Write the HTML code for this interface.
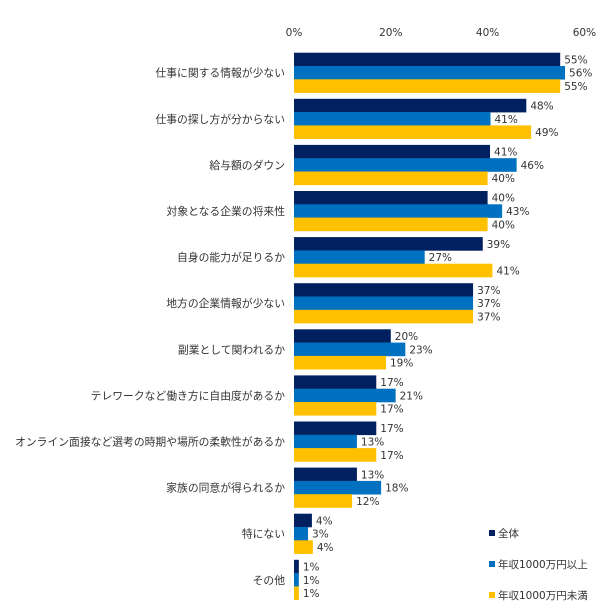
<!DOCTYPE html>
<html><head><meta charset="utf-8"><style>
body{margin:0;background:#fff;}
svg{display:block;font-family:"DejaVu Sans","Noto Sans CJK JP",sans-serif;font-size:10.5px;fill:#333;}
</style></head><body>
<svg id="chart" width="603" height="611" xmlns="http://www.w3.org/2000/svg"></svg>
<script>
const categories=["仕事に関する情報が少ない","仕事の探し方が分からない","給与額のダウン","対象となる企業の将来性","自身の能力が足りるか","地方の企業情報が少ない","副業として関われるか","テレワークなど働き方に自由度があるか","オンライン面接など選考の時期や場所の柔軟性があるか","家族の同意が得られるか","特にない","その他"];
const seriesNames=["全体","年収1000万円以上","年収1000万円未満"];
const allValues=[55,48,40.5,40,39,37,20,17,17,13,3.7,1];
const highValues=[56,40.6,46,43,27,37,23,21,13,18,2.9,1];
const lowValues=[55,49,40,40,41,37,19,17,17,12,3.9,1];
const ticks=[0,20,40,60];
const colors=["#002060","#0070C0","#FFC000"];
const svg=document.getElementById('chart');
const NS="http://www.w3.org/2000/svg";
const x0=294,scale=4.84,top0=52.7,pitch=46.1,bh=13.3;
const xs=v=>x0+v*scale;
function mk(t,a,txt){const e=document.createElementNS(NS,t);for(const k in a)e.setAttribute(k,a[k]);if(txt!==undefined)e.textContent=txt;svg.appendChild(e);return e;}
ticks.forEach(t=>{const e=mk('text',{x:xs(t),y:36,'text-anchor':'middle'},t+'%');

});
const series=[allValues,highValues,lowValues];
categories.forEach((c,i)=>{
 const gy=top0+i*pitch;
 const l=mk('text',{x:285,y:gy+bh*1.5+4,'text-anchor':'end','font-size':'10.8px'},c);
 
 
 series.forEach((s,j)=>{
  const y=gy+j*bh;
  const r=mk('rect',{x:x0,y:y,width:s[i]*scale,height:bh+0.3,fill:colors[j]});
  
  
  const t=mk('text',{x:xs(s[i])+4,y:y+bh/2+4},Math.round(s[i])+'%');
  
  
 });
});
const ly=[533,564,595];
seriesNames.forEach((n,j)=>{
 const r=mk('rect',{x:489,y:ly[j]-3,width:6,height:6,fill:colors[j]});
 
 
 const t=mk('text',{x:498,y:ly[j]+4},n);
 
 
});
</script>
</body></html>
